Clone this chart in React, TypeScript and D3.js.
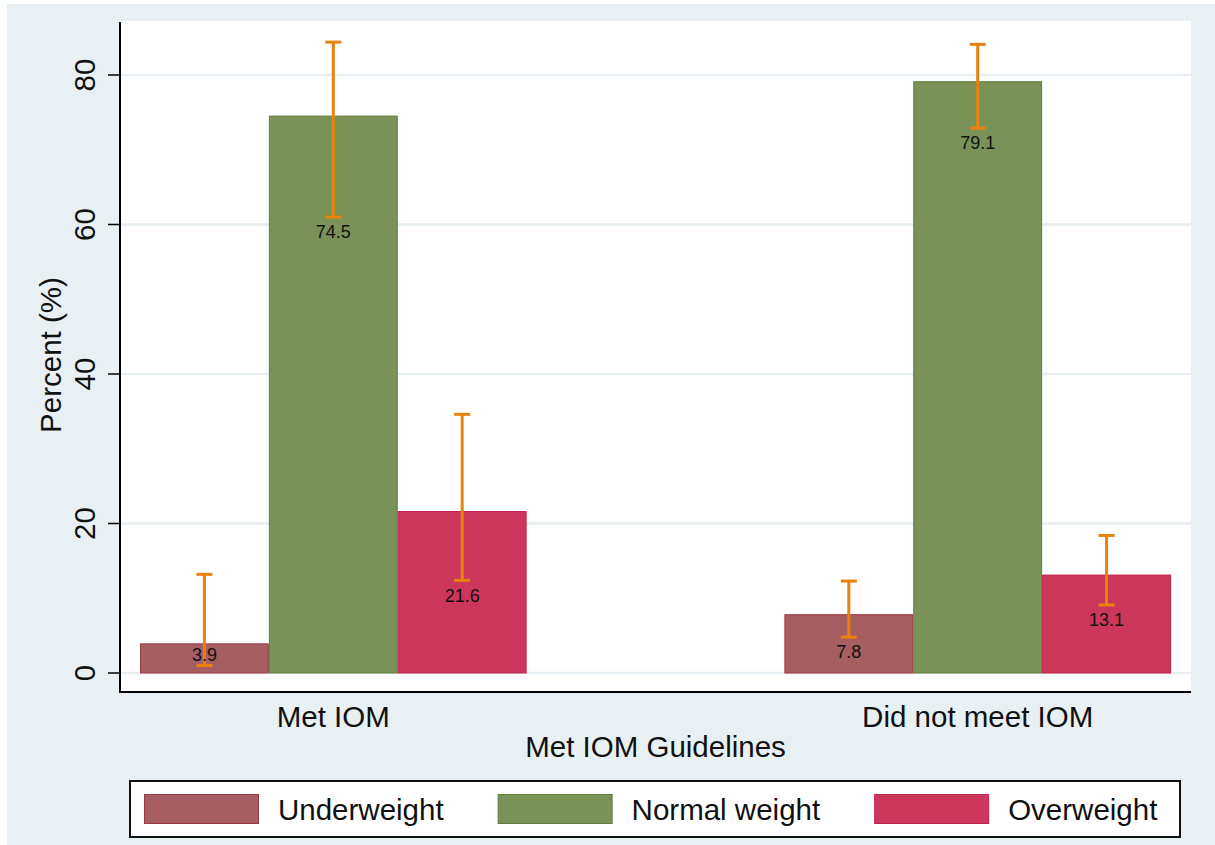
import React, { useMemo } from "react";
import * as d3 from "d3";

// Categories and series
const groups = ["Met IOM", "Did not meet IOM"];
const series = ["Underweight", "Normal weight", "Overweight"];

// Percent values per series, one entry per group
const underweight = [3.9, 7.8];
const normalWeight = [74.5, 79.1];
const overweight = [21.6, 13.1];

// 95% confidence limits per series, one entry per group
const underweightLo = [1.0, 4.8];
const underweightHi = [13.2, 12.3];
const normalWeightLo = [61.0, 72.9];
const normalWeightHi = [84.4, 84.1];
const overweightLo = [12.4, 9.1];
const overweightHi = [34.6, 18.4];

const yTicks = [0, 20, 40, 60, 80];

const seriesValues = [underweight, normalWeight, overweight];
const seriesLo = [underweightLo, normalWeightLo, overweightLo];
const seriesHi = [underweightHi, normalWeightHi, overweightHi];

const fills = ["#a65e62", "#7a9158", "#cd375c"];
const strokes = ["#993b44", "#5f7d3c", "#c2204b"];
const ciColor = "#e8820c";
const bgColor = "#e9f0f3";
const gridColor = "#e6eef1";
const FONT = "'Liberation Sans', Arial, sans-serif";

const W = 1215;
const H = 845;
const plot = { left: 120, right: 1191, top: 22, bottom: 692 };

function useTextWidth() {
  return useMemo(() => {
    const canvas = document.createElement("canvas");
    const ctx = canvas.getContext("2d");
    return (text: string, size: number) => {
      if (!ctx) return text.length * size * 0.55;
      ctx.font = `${size}px 'Liberation Sans', Arial, sans-serif`;
      return ctx.measureText(text).width;
    };
  }, []);
}

export default function App() {
  const measure = useTextWidth();

  const x0 = d3
    .scaleBand<string>()
    .domain(groups)
    .range([plot.left, plot.right])
    .paddingInner(0.4)
    .paddingOuter(0.031);
  const x1 = d3
    .scaleBand<string>()
    .domain(series)
    .range([0, x0.bandwidth()])
    .padding(0);
  const y = d3.scaleLinear().domain([0, 80]).range([673, 75]);

  const bars: {
    key: string;
    x: number;
    w: number;
    v: number;
    lo: number;
    hi: number;
    si: number;
  }[] = [];
  groups.forEach((g, gi) => {
    series.forEach((s, si) => {
      bars.push({
        key: `${g}-${s}`,
        x: (x0(g) ?? 0) + (x1(s) ?? 0),
        w: x1.bandwidth(),
        v: seriesValues[si][gi],
        lo: seriesLo[si][gi],
        hi: seriesHi[si][gi],
        si,
      });
    });
  });

  // Legend items laid out left to right from measured label widths
  const legendSize = 29.5;
  const swatchW = 115;
  const legendItems: { name: string; x: number; tx: number; si: number }[] = [];
  let cursor = 144;
  series.forEach((s, si) => {
    const tx = cursor + swatchW + 19;
    legendItems.push({ name: s, x: cursor, tx, si });
    cursor = tx + measure(s, legendSize) + 54;
  });

  const textColor = "#111";

  return (
    <div style={{ position: "absolute", left: 0, top: 0 }}>
      <svg width={W} height={H} style={{ display: "block", fontFamily: FONT }}>
        <rect x={0} y={0} width={W} height={H} fill="#ffffff" />
        <rect x={7} y={4} width={W - 7} height={H - 4} fill={bgColor} />
        <rect
          x={plot.left}
          y={plot.top - 1}
          width={plot.right - plot.left}
          height={plot.bottom - plot.top + 1}
          fill="#ffffff"
        />

        {/* gridlines */}
        {yTicks.map((t) => (
          <line
            key={`g${t}`}
            x1={plot.left}
            x2={plot.right}
            y1={y(t)}
            y2={y(t)}
            stroke={gridColor}
            strokeWidth={2.5}
          />
        ))}

        {/* bars */}
        {bars.map((b) => (
          <rect
            key={b.key}
            x={b.x + 0.5}
            y={y(b.v)}
            width={b.w - 1}
            height={y(0) - y(b.v)}
            fill={fills[b.si]}
            stroke={strokes[b.si]}
            strokeWidth={1}
          />
        ))}

        {/* confidence intervals */}
        {bars.map((b) => {
          const cx = b.x + b.w / 2;
          return (
            <g key={`ci-${b.key}`} stroke={ciColor} strokeWidth={3}>
              <line x1={cx} x2={cx} y1={y(b.hi)} y2={y(b.lo)} />
              <line x1={cx - 8} x2={cx + 8} y1={y(b.hi)} y2={y(b.hi)} />
              <line x1={cx - 8} x2={cx + 8} y1={y(b.lo)} y2={y(b.lo)} />
            </g>
          );
        })}

        {/* value labels under the lower limit */}
        {bars.map((b) => {
          const cx = b.x + b.w / 2;
          const cy = Math.min(y(b.lo) + 15, y(0) - 18);
          return (
            <text
              key={`lbl-${b.key}`}
              x={cx}
              y={cy}
              dy="0.35em"
              textAnchor="middle"
              fontSize={18}
              fill={textColor}
            >
              {d3.format(".1f")(b.v)}
            </text>
          );
        })}

        {/* axes */}
        <line
          x1={plot.left}
          x2={plot.left}
          y1={plot.top}
          y2={plot.bottom}
          stroke="#000"
          strokeWidth={2}
        />
        <line
          x1={plot.left - 1}
          x2={plot.right}
          y1={plot.bottom}
          y2={plot.bottom}
          stroke="#000"
          strokeWidth={2}
        />
        {yTicks.map((t) => (
          <g key={`t${t}`}>
            <line
              x1={plot.left - 12}
              x2={plot.left}
              y1={y(t)}
              y2={y(t)}
              stroke="#000"
              strokeWidth={1.5}
            />
            <text
              transform={`translate(95,${y(t)}) rotate(-90)`}
              textAnchor="middle"
              fontSize={29.5}
              fill={textColor}
            >
              {t}
            </text>
          </g>
        ))}
        <text
          transform={`translate(61,355) rotate(-90)`}
          textAnchor="middle"
          fontSize={29.5}
          fill={textColor}
        >
          Percent (%)
        </text>

        {groups.map((g) => (
          <text
            key={`xl-${g}`}
            x={(x0(g) ?? 0) + x0.bandwidth() / 2}
            y={727}
            textAnchor="middle"
            fontSize={29.5}
            fill={textColor}
          >
            {g}
          </text>
        ))}
        <text
          x={(plot.left + plot.right) / 2}
          y={757}
          textAnchor="middle"
          fontSize={29.5}
          fill={textColor}
        >
          Met IOM Guidelines
        </text>

        {/* legend */}
        <rect
          x={130}
          y={781}
          width={1050}
          height={56}
          fill="#ffffff"
          stroke="#111"
          strokeWidth={2}
        />
        {legendItems.map((it) => (
          <g key={`lg-${it.name}`}>
            <rect
              x={it.x + 0.5}
              y={794.5}
              width={swatchW - 1}
              height={29}
              fill={fills[it.si]}
              stroke={strokes[it.si]}
              strokeWidth={1}
            />
            <text x={it.tx} y={820} fontSize={legendSize} fill={textColor}>
              {it.name}
            </text>
          </g>
        ))}
      </svg>
    </div>
  );
}
